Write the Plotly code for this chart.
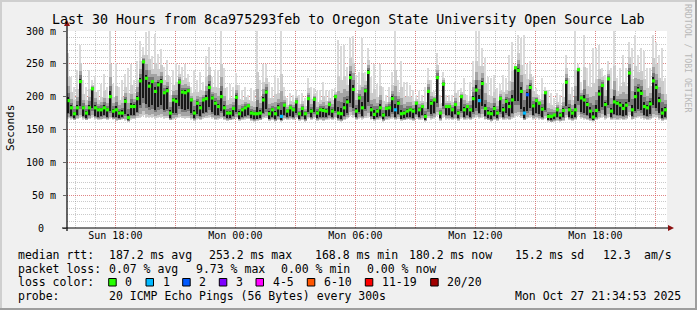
import pandas as pd
import plotly.graph_objects as go

# ---------------- data ----------------
median_ms = [
    194, 183, 174, 183, 223, 183, 175, 183, 212, 183, 180, 180, 183, 180, 200, 178, 180, 175, 175, 193,
    168, 185, 185, 197, 224, 253, 228, 216, 223, 208, 218, 223, 206, 209, 175, 195, 193, 222, 207, 206,
    209, 195, 175, 190, 183, 195, 197, 214, 198, 190,
    185, 200, 183, 175, 175, 182, 199, 174, 180, 183, 186, 175, 174, 174, 175, 195, 207, 174, 180, 174,
    183, 170, 187, 178, 183, 180, 192, 174, 182, 174, 197, 178, 196, 175, 180, 179, 178, 188, 178, 200,
    175, 174, 183, 192, 229, 211, 178, 198, 183, 209,
    237, 180, 173, 178, 183, 172, 182, 183, 197, 180, 190, 174, 175, 178, 180, 178, 190, 180, 185, 170,
    208, 190, 195, 229, 175, 219, 185, 185, 180, 188, 175, 200, 180, 185, 180, 197, 210, 194, 220, 182,
    175, 174, 182, 175, 197, 180, 193, 185, 195, 244,
    240, 208, 175, 203, 214, 186, 194, 190, 181, 206, 170, 170, 172, 180, 172, 179, 222, 180, 175, 180,
    241, 198, 195, 188, 178, 169, 179, 204, 217, 188, 227, 178, 192, 190, 187, 182, 187, 236, 180, 200,
    210, 205, 185, 183, 189, 224, 214, 194, 175, 180,
]
max_ms = [
    266, 230, 215, 240, 279, 225, 215, 240, 225, 232, 210, 220, 235, 215, 300, 220, 251, 215, 225, 235,
    243, 250, 225, 255, 285, 275, 298, 300, 262, 295, 265, 272, 245, 256, 230, 240, 252, 248, 245, 250,
    235, 215, 240, 225, 238, 222, 262, 275, 230, 240,
    240, 300, 244, 215, 220, 215, 236, 218, 210, 215, 203, 213, 210, 300, 225, 249, 249, 223, 215, 233,
    228, 300, 215, 198, 205, 203, 210, 203, 205, 198, 228, 215, 213, 208, 210, 223, 210, 208, 212, 213,
    287, 277, 279, 245, 289, 292, 233, 238, 289, 238,
    274, 230, 249, 220, 249, 215, 203, 215, 238, 300, 225, 254, 223, 223, 218, 210, 203, 208, 203, 215,
    244, 225, 208, 266, 203, 238, 203, 203, 203, 223, 210, 213, 228, 203, 223, 254, 300, 300, 274, 259,
    230, 228, 233, 213, 220, 233, 228, 264, 284, 249,
    294, 289, 294, 250, 254, 230, 213, 203, 228, 215, 210, 205, 198, 205, 203, 220, 264, 228, 215, 300,
    250, 223, 294, 244, 250, 274, 274, 279, 244, 233, 254, 244, 300, 228, 244, 264, 244, 284, 274, 294,
    264, 274, 269, 244, 244, 294, 284, 264, 274, 228,
]
min_ms = [
    166, 165, 164, 166, 167, 165, 164, 166, 167, 165, 164, 165, 166, 164, 166, 165, 163, 164, 165, 163,
    162, 165, 166, 167, 168, 170, 168, 167, 168, 166, 167, 168, 166, 167, 164, 165, 166, 168, 167, 166,
    167, 165, 163, 165, 164, 166, 167, 168, 166, 164,
    165, 166, 164, 163, 164, 165, 166, 163, 164, 165, 166, 163, 162, 163, 164, 166, 167, 163, 164, 162,
    164, 162, 165, 164, 165, 164, 166, 163, 164, 162, 166, 164, 166, 163, 164, 163, 164, 165, 164, 166,
    163, 162, 164, 166, 170, 168, 164, 166, 165, 167,
    168, 165, 163, 164, 165, 162, 164, 165, 166, 164, 166, 163, 164, 165, 164, 163, 166, 164, 165, 162,
    167, 165, 166, 170, 163, 168, 165, 165, 164, 166, 163, 166, 164, 165, 164, 166, 168, 166, 168, 165,
    164, 162, 164, 163, 166, 164, 165, 164, 166, 168,
    170, 167, 164, 166, 167, 165, 166, 165, 164, 166, 162, 161, 162, 163, 162, 163, 167, 164, 163, 164,
    170, 166, 165, 164, 163, 162, 164, 166, 168, 165, 167, 164, 165, 164, 165, 164, 165, 170, 165, 166,
    167, 166, 165, 164, 165, 168, 167, 165, 163, 164,
]
# sample index -> number of lost pings (all others lost 0)
loss_events = {71: 1, 109: 1, 137: 1, 152: 1, 153: 2}

loss_labels = ["0", "1", "2", "3", "4-5", "6-10", "11-19", "20/20"]
loss_colors = ["#26ff00", "#00b8ff", "#0059ff", "#7e00ff", "#ff00ff", "#ff5500", "#ff0000", "#a10000"]

y_tick_values = [0, 50, 100, 150, 200, 250, 300]
y_tick_labels = ["0\u00a0\u00a0", "50 m", "100 m", "150 m", "200 m", "250 m", "300 m"]

x_tick_values = ["2025-10-26 18:00", "2025-10-26 21:00", "2025-10-27 00:00", "2025-10-27 03:00",
                 "2025-10-27 06:00", "2025-10-27 09:00", "2025-10-27 12:00", "2025-10-27 15:00",
                 "2025-10-27 18:00", "2025-10-27 21:00"]
x_tick_labels = ["Sun 18:00", "", "Mon 00:00", "", "Mon 06:00", "", "Mon 12:00", "", "Mon 18:00", ""]

title_text = "Last 30 Hours from 8ca975293feb to Oregon State University Open Source Lab"
start_time = pd.Timestamp("2025-10-26 15:34:53")
end_time = pd.Timestamp("2025-10-27 21:34:53")
step = pd.Timedelta(minutes=9)

# ---------------- geometry helpers ----------------
W, H = 697, 310
L, R, T, B = 67, 30, 31, 82
PW, PH = W - L - R, H - T - B
MONO = "DejaVu Sans Mono"


def px(xp):
    return (xp - L) / PW


def py(yp):
    return (H - B - yp) / PH


n = len(median_ms)
times = [start_time + step * i + step / 2 for i in range(n)]
loss_pings = [loss_events.get(i, 0) for i in range(n)]

fig = go.Figure()

# smoke: bands as (fraction below median, fraction above median, colour, relative bar width)
smoke_bands = [
    (1.00, 1.00, "#dadada", 0.55),
    (0.97, 0.50, "#cbcbcb", 0.85),
    (0.90, 0.30, "#a4a4a4", 1.00),
    (0.75, 0.17, "#787878", 0.80),
    (0.66, 0.08, "#181818", 0.42),
]
step_ms = step.total_seconds() * 1000
for fl, fu, col, wf in smoke_bands:
    lows = [m - fl * (m - lo) for m, lo in zip(median_ms, min_ms)]
    highs = [m + fu * (hi - m) for m, hi in zip(median_ms, max_ms)]
    fig.add_trace(go.Bar(
        x=times, y=[h - l for h, l in zip(highs, lows)], base=lows, width=step_ms * wf,
        marker=dict(color=col, line=dict(width=0)), hoverinfo="skip", showlegend=False,
    ))


def loss_color(k):
    if k <= 3:
        return loss_colors[k]
    if k <= 5:
        return loss_colors[4]
    if k <= 10:
        return loss_colors[5]
    if k <= 19:
        return loss_colors[6]
    return loss_colors[7]


fig.add_trace(go.Scatter(
    x=times, y=median_ms, mode="markers",
    marker=dict(symbol="square", size=3.2, color=[loss_color(k) for k in loss_pings], line=dict(width=0)),
    hoverinfo="skip", showlegend=False,
))

grid_minor = "rgba(128,128,128,0.42)"
grid_major = "rgba(255,32,32,0.40)"

fig.update_layout(
    width=W, height=H, autosize=False,
    margin=dict(l=L, r=R, t=T, b=B),
    paper_bgcolor="#f0f0f0", plot_bgcolor="#ffffff",
    barmode="overlay", bargap=0,
    font=dict(family=MONO, color="#000000"),
    xaxis=dict(
        type="date", range=[start_time, end_time],
        tickmode="array", tickvals=x_tick_values, ticktext=x_tick_labels,
        tickfont=dict(family=MONO, size=10, color="#000000"),
        showgrid=True, gridcolor=grid_major, griddash="1px,1px", gridwidth=1,
        minor=dict(dtick=3600000, tick0="2025-10-26 00:00", showgrid=True, gridcolor=grid_minor,
                   griddash="1px,1px", ticks=""),
        ticks="", showline=False, zeroline=False, fixedrange=True,
    ),
    yaxis=dict(
        range=[0, 300], tickmode="array", tickvals=y_tick_values, ticktext=y_tick_labels,
        tickfont=dict(family=MONO, size=10, color="#000000"),
        showgrid=True, gridcolor=grid_major, griddash="1px,1px", gridwidth=1,
        minor=dict(dtick=10, tick0=0, showgrid=True, gridcolor=grid_minor, griddash="1px,1px", ticks=""),
        ticks="outside", ticklen=3, tickcolor="#666666", ticklabelstandoff=5,
        showline=False, zeroline=False, fixedrange=True,
    ),
)

shapes = []
# 3D frame
shapes.append(dict(type="rect", xref="paper", yref="paper", x0=px(0), x1=px(W), y0=py(0), y1=py(2),
                   fillcolor="#cfcfcf", line=dict(width=0), layer="below"))
shapes.append(dict(type="rect", xref="paper", yref="paper", x0=px(0), x1=px(2), y0=py(0), y1=py(H),
                   fillcolor="#cfcfcf", line=dict(width=0), layer="below"))
shapes.append(dict(type="rect", xref="paper", yref="paper", x0=px(0), x1=px(W), y0=py(H - 2), y1=py(H),
                   fillcolor="#9e9e9e", line=dict(width=0), layer="below"))
shapes.append(dict(type="rect", xref="paper", yref="paper", x0=px(W - 2), x1=px(W), y0=py(0), y1=py(H),
                   fillcolor="#9e9e9e", line=dict(width=0), layer="below"))
# axes lines
shapes.append(dict(type="line", xref="paper", yref="paper", x0=px(62), x1=px(669), y0=0, y1=0,
                   line=dict(color="#000000", width=1.2), layer="above"))
shapes.append(dict(type="line", xref="paper", yref="paper", x0=0, x1=0, y0=py(231), y1=py(25),
                   line=dict(color="#000000", width=1.2), layer="above"))
# arrows
shapes.append(dict(type="path", xref="paper", yref="paper",
                   path=f"M {px(64)} {py(26)} L {px(70)} {py(26)} L {px(67)} {py(20)} Z",
                   fillcolor="#8b1010", line=dict(width=0), layer="above"))
shapes.append(dict(type="path", xref="paper", yref="paper",
                   path=f"M {px(668)} {py(225)} L {px(668)} {py(231)} L {px(674)} {py(228)} Z",
                   fillcolor="#8b1010", line=dict(width=0), layer="above"))

annotations = []


def text(x, y, s, size=11.5, color="#000000", xanchor="left", angle=0):
    annotations.append(dict(
        x=px(x), y=py(y), xref="paper", yref="paper", text=s.replace(" ", "\u00a0"),
        showarrow=False, xanchor=xanchor, yanchor="middle", textangle=angle,
        font=dict(family=MONO, size=size, color=color),
    ))


text(347.5, 19.5, title_text, size=13.3, xanchor="center")
text(688, 58, "RRDTOOL / TOBI OETIKER", size=8.2, color="#b8b8b8", xanchor="center", angle=90)
text(10, 128, "Seconds", size=11, xanchor="center", angle=-90)

row1 = [(16, "median rtt:"), (107.3, "187.2 ms avg"), (207.3, "253.2 ms max"), (312.7, "168.8 ms min"),
        (407.3, "180.2 ms now"), (512.7, "15.2 ms sd"), (600.7, "12.3"), (642, "am/s")]
row2 = [(16, "packet loss:"), (107.3, "0.07 % avg"), (194, "9.73 % max"), (279.3, "0.00 % min"),
        (365, "0.00 % now")]
row4 = [(16, "probe:"), (107.3, "20 ICMP Echo Pings (56 Bytes) every 300s"),
        (512.7, "Mon Oct 27 21:34:53 2025")]
for xx, s in row1:
    text(xx, 255, s)
for xx, s in row2:
    text(xx, 268.5, s)
for xx, s in row4:
    text(xx, 296, s)

text(16, 282.3, "loss color:")
swatch_x = [108.7, 146, 182.7, 219.3, 256, 307.3, 365.3, 430.7]
for sx, lab, col in zip(swatch_x, loss_labels, loss_colors):
    shapes.append(dict(type="rect", xref="paper", yref="paper", x0=px(sx), x1=px(sx + 7.5),
                       y0=py(278.5), y1=py(286), fillcolor=col, line=dict(color="#000000", width=1)))
    text(sx + 14.6, 282.3, lab)

fig.update_layout(shapes=shapes, annotations=annotations)
fig.write_html("out.html")
